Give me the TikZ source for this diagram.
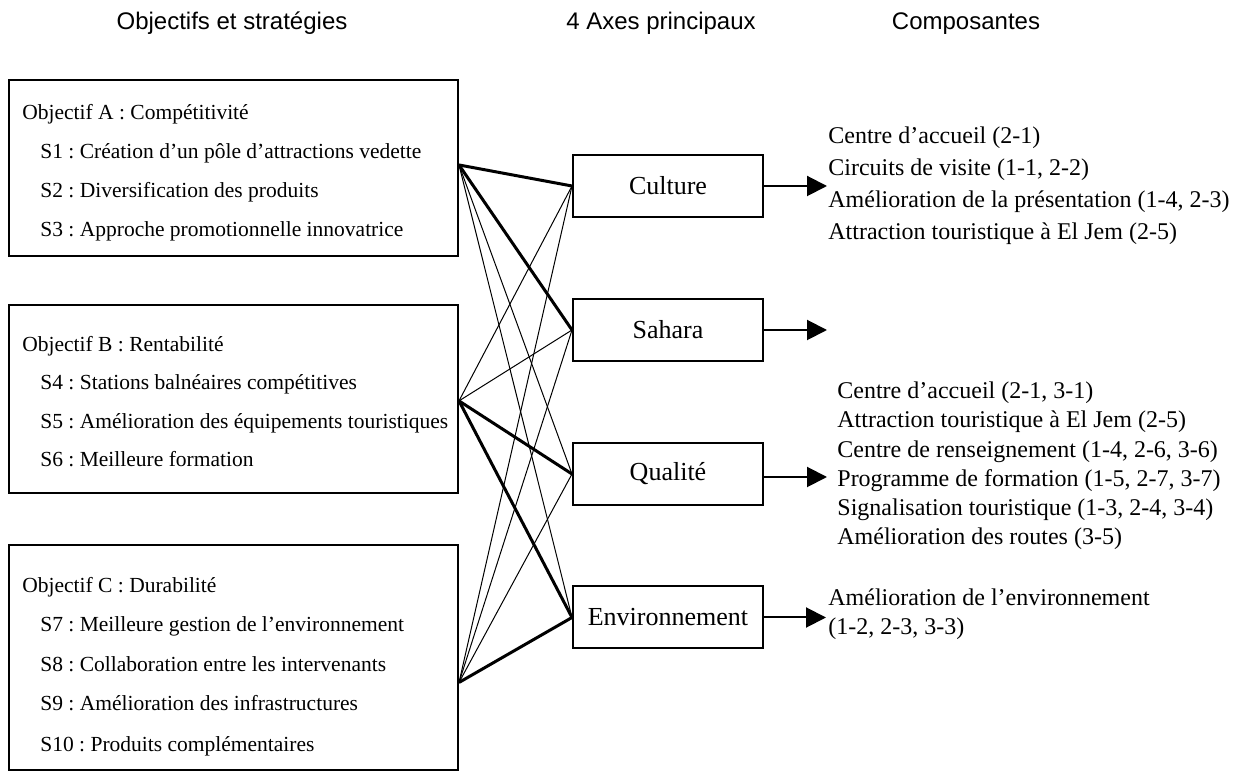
\documentclass[tikz,border=0pt]{standalone}
\usepackage{fontspec}
\setmainfont{Liberation Serif}
\newfontfamily\headfont{Liberation Sans}
\usetikzlibrary{arrows.meta,calc}
\frenchspacing

\begin{document}
\begin{tikzpicture}[x=0.5pt,y=-0.5pt,
  heading/.style={font=\headfont\fontsize{12}{14}\selectfont, anchor=base, inner sep=0},
  objbox/.style={draw, line width=1pt, minimum width=224.5pt, inner sep=0},
  axisbox/.style={draw, line width=1pt, minimum width=95pt, minimum height=31pt, inner sep=0,
                  font=\fontsize{13}{15}\selectfont},
  lefttxt/.style={font=\fontsize{10.75}{12}\selectfont, anchor=base west, inner sep=0},
  righttxt/.style={font=\fontsize{12}{14}\selectfont, anchor=base west, inner sep=0},
  weak/.style={line width=0.5pt},
  strong/.style={line width=1.5pt},
  outarrow/.style={line width=1pt, -{Triangle[length=10pt,width=10pt]}}]

\useasboundingbox (0,0) rectangle (1248,774);

% column headings
\node[heading] (h1) at (232,30) {Objectifs et stratégies};
\node[heading] (h2) at (661,30) {4 Axes principaux};
\node[heading] (h3) at (966,30) {Composantes};

% objective boxes
\node[objbox, minimum height=88pt]    (boxA) at (233.5,168) {};
\node[objbox, minimum height=94pt]    (boxB) at (233.5,399) {};
\node[objbox, minimum height=112.5pt] (boxC) at (233.5,657.5) {};

\node[lefttxt] (oA)  at (22,120) {Objectif A : Compétitivité};
\node[lefttxt] (s1)  at (40,159) {S1 : Création d’un pôle d’attractions vedette};
\node[lefttxt] (s2)  at (40,198) {S2 : Diversification des produits};
\node[lefttxt] (s3)  at (40,237) {S3 : Approche promotionnelle innovatrice};

\node[lefttxt] (oB)  at (22,352) {Objectif B : Rentabilité};
\node[lefttxt] (s4)  at (40,390) {S4 : Stations balnéaires compétitives};
\node[lefttxt] (s5)  at (40,429) {S5 : Amélioration des équipements touristiques};
\node[lefttxt] (s6)  at (40,467) {S6 : Meilleure formation};

\node[lefttxt] (oC)  at (22,593) {Objectif C : Durabilité};
\node[lefttxt] (s7)  at (40,632) {S7 : Meilleure gestion de l’environnement};
\node[lefttxt] (s8)  at (40,672) {S8 : Collaboration entre les intervenants};
\node[lefttxt] (s9)  at (40,711) {S9 : Amélioration des infrastructures};
\node[lefttxt] (s10) at (40,751) {S10 : Produits complémentaires};

% the four axes
\node[axisbox] (cul) at (668,186)   {Culture};
\node[axisbox] (sah) at (668,330)   {Sahara};
\node[axisbox] (qua) at (668,474)   {Qualité};
\node[axisbox] (env) at (668,617.5) {Environnement};

% points where the links leave the objective boxes
\coordinate (pA) at ($(boxA.north east)!0.483!(boxA.south east)$);
\coordinate (pB) at ($(boxB.north east)!0.51!(boxB.south east)$);
\coordinate (pC) at ($(boxC.north east)!0.61!(boxC.south east)$);

% links objectives -> axes
\draw[strong] (pA) -- (cul.west);
\draw[strong] (pA) -- (sah.west);
\draw[weak]   (pA) -- (qua.west);
\draw[weak]   (pA) -- (env.west);

\draw[weak]   (pB) -- (cul.west);
\draw[weak]   (pB) -- (sah.west);
\draw[strong] (pB) -- (qua.west);
\draw[strong] (pB) -- (env.west);

\draw[weak]   (pC) -- (cul.west);
\draw[weak]   (pC) -- (sah.west);
\draw[weak]   (pC) -- (qua.west);
\draw[strong] (pC) -- (env.west);

% arrows towards the components
\coordinate (tCul) at (827,186);
\coordinate (tSah) at (827,330);
\coordinate (tQua) at (827,477);
\coordinate (tEnv) at (826,617.5);
\draw[outarrow] (cul.east) -- (tCul);
\draw[outarrow] (sah.east) -- (tSah);
\draw[outarrow] (qua.east |- tQua) -- (tQua);
\draw[outarrow] (env.east) -- (tEnv);

% components
\node[righttxt] (c1) at (828,144) {Centre d’accueil (2-1)};
\node[righttxt] (c2) at (828,176) {Circuits de visite (1-1, 2-2)};
\node[righttxt] (c3) at (828,208) {Amélioration de la présentation (1-4, 2-3)};
\node[righttxt] (c4) at (828,240) {Attraction touristique à El Jem (2-5)};

\node[righttxt] (q1) at (837,399) {Centre d’accueil (2-1, 3-1)};
\node[righttxt] (q2) at (837,428) {Attraction touristique à El Jem (2-5)};
\node[righttxt] (q3) at (837,458) {Centre de renseignement (1-4, 2-6, 3-6)};
\node[righttxt] (q4) at (837,487) {Programme de formation (1-5, 2-7, 3-7)};
\node[righttxt] (q5) at (837,516) {Signalisation touristique (1-3, 2-4, 3-4)};
\node[righttxt] (q6) at (837,545) {Amélioration des routes (3-5)};

\node[righttxt] (e1) at (828,606) {Amélioration de l’environnement};
\node[righttxt] (e2) at (828,635) {(1-2, 2-3, 3-3)};

\end{tikzpicture}
\end{document}
